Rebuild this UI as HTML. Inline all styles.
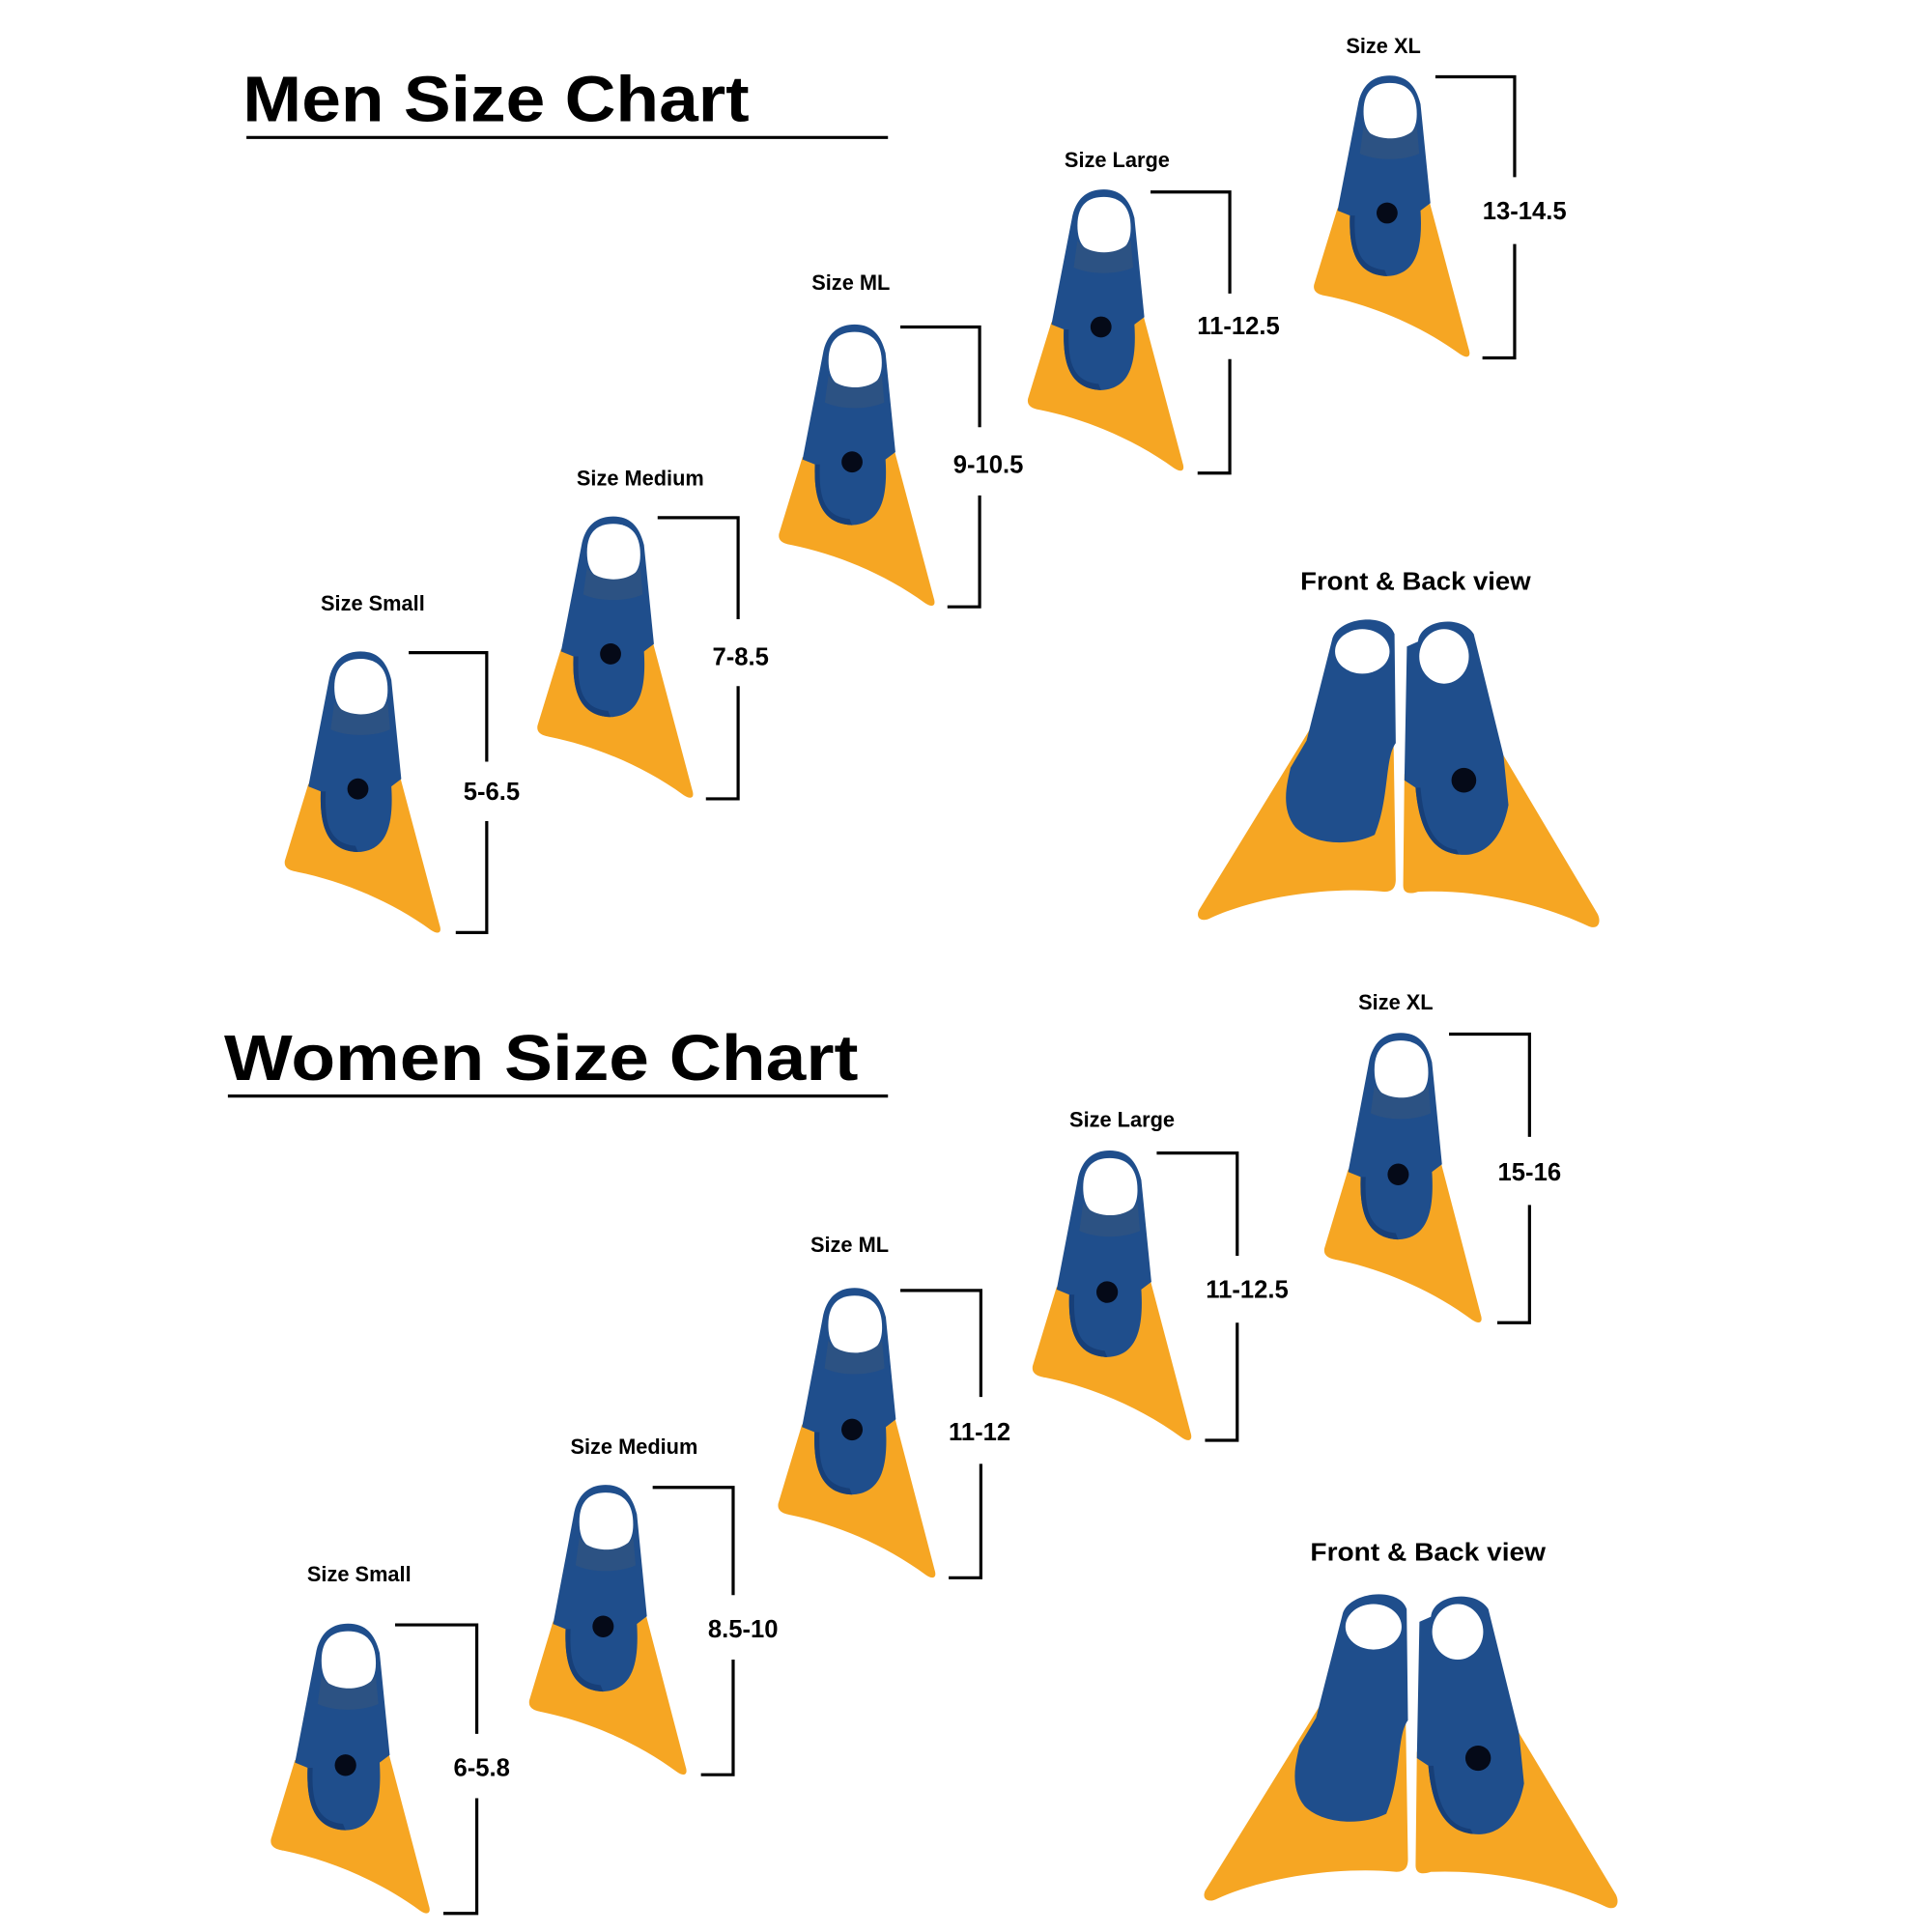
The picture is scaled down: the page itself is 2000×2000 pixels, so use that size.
<!DOCTYPE html>
<html><head><meta charset="utf-8"><style>
html,body{margin:0;padding:0;background:#fff;}
svg{display:block;}
text{font-family:"Liberation Sans",sans-serif;font-weight:bold;fill:#000;}
</style></head><body>
<svg width="2000" height="2000" viewBox="0 0 1560 1560" xmlns="http://www.w3.org/2000/svg">
<defs>
<g id="fin">
  <path d="M-41,106 L-60,168 C-61,174 -56,176 -50,177 C-15,184 25,200 58,224 C64,228 67,226 65,220 L33,100 Z" fill="#f6a623"/>
  <path d="M-24,20 C-20,4 -10,-1 1,-1 C14,-1 22,6 26,22 L34,102 L26,108 C28,140 22,160 -1,161 C-26,160 -32,140 -31,112 L-41,108 Z" fill="#1f4e8c"/>
  <path d="M-31,112 C-32,140 -26,160 -1,161 L-3,156 C-24,154 -28,138 -27,112 Z" fill="#173f78"/>
  <path d="M-20,28 C-20,10 -10,5 1,5 C14,5 23,12 23,30 C23,48 12,51 1,51 C-12,51 -20,45 -20,28 Z" fill="#fff"/>
  <path d="M-20,40 C-14,52 14,54 23,40 L25,62 C12,68 -10,68 -23,62 Z" fill="#2c5283"/>
  <circle cx="-1" cy="110" r="8.5" fill="#050a18"/>
</g>
<g id="pair">
  <path d="M1060,585 L968,735 C965,742 971,745 978,741 C1020,722 1080,716 1118,720 C1125,720 1127,716 1127,710 L1125,585 Z" fill="#f6a623"/>
  <path d="M1076,515 C1082,498 1120,494 1126,512 L1127,600 C1118,612 1122,645 1110,674 C1090,684 1060,682 1046,668 C1033,652 1040,630 1042,620 L1055,598 Z" fill="#1f4e8c"/>
  <ellipse cx="1100" cy="526" rx="22" ry="18" fill="#fff"/>
  <path d="M1134,625 L1133,715 C1133,722 1139,722 1145,720 C1195,718 1245,730 1283,748 C1291,751 1293,744 1290,738 L1214,610 Z" fill="#f6a623"/>
  <path d="M1145,518 C1147,500 1180,496 1190,512 L1214,610 L1218,650 C1212,682 1195,692 1178,690 C1158,688 1146,672 1143,636 L1134,630 L1136,522 Z" fill="#1f4e8c"/>
  <path d="M1143,636 C1146,672 1158,688 1178,690 L1176,686 C1160,684 1150,670 1147,636 Z" fill="#173f78"/>
  <ellipse cx="1166" cy="530" rx="20" ry="22" fill="#fff"/>
  <circle cx="1182" cy="630" r="10" fill="#050a18"/>
</g>
</defs>

<text x="196" y="98" font-size="52" textLength="409" lengthAdjust="spacingAndGlyphs">Men Size Chart</text>
<line x1="199" y1="111" x2="717" y2="111" stroke="#000" stroke-width="2.5"/>
<text x="181" y="872" font-size="52" textLength="512" lengthAdjust="spacingAndGlyphs">Women Size Chart</text>
<line x1="184" y1="885" x2="717" y2="885" stroke="#000" stroke-width="2.5"/>

<g fill="none" stroke="#000" stroke-width="2.5">
<path d="M330,527 H393 V615 M393,663 V753 H368"/>
<path d="M531,418 H596 V500 M596,554 V645 H570"/>
<path d="M727,264 H791 V345 M791,400 V490 H765"/>
<path d="M929,155 H993 V237 M993,290 V382 H967"/>
<path d="M1159,62 H1223 V143 M1223,197 V289 H1197"/>
<path d="M319,1312 H385 V1400 M385,1452 V1545 H358"/>
<path d="M527,1201 H592 V1288 M592,1340 V1433 H566"/>
<path d="M727,1042 H792 V1128 M792,1182 V1274 H766"/>
<path d="M934,931 H999 V1014 M999,1068 V1163 H973"/>
<path d="M1170,835 H1235 V918 M1235,973 V1068 H1209"/>
</g>

<g font-size="20" text-anchor="middle">
<text x="397" y="646">5-6.5</text>
<text x="598" y="537">7-8.5</text>
<text x="798" y="382">9-10.5</text>
<text x="1000" y="270">11-12.5</text>
<text x="1231" y="177">13-14.5</text>
<text x="389" y="1434">6-5.8</text>
<text x="600" y="1322">8.5-10</text>
<text x="791" y="1163">11-12</text>
<text x="1007" y="1048">11-12.5</text>
<text x="1235" y="953">15-16</text>
</g>

<g font-size="17" text-anchor="middle">
<text x="301" y="493">Size Small</text>
<text x="517" y="392">Size Medium</text>
<text x="687" y="234">Size ML</text>
<text x="902" y="135">Size Large</text>
<text x="1117" y="43">Size XL</text>
<text x="290" y="1277">Size Small</text>
<text x="512" y="1174">Size Medium</text>
<text x="686" y="1011">Size ML</text>
<text x="906" y="910">Size Large</text>
<text x="1127" y="815">Size XL</text>
</g>
<g font-size="20">
<text x="1050" y="476" textLength="186" lengthAdjust="spacingAndGlyphs">Front &amp; Back view</text>
<text x="1058" y="1260" textLength="190" lengthAdjust="spacingAndGlyphs">Front &amp; Back view</text>
</g>

<use href="#fin" transform="translate(290,527)"/>
<use href="#fin" transform="translate(494,418)"/>
<use href="#fin" transform="translate(689,263)"/>
<use href="#fin" transform="translate(890,154)"/>
<use href="#fin" transform="translate(1121,62)"/>
<use href="#fin" transform="translate(280,1312) scale(1.02,1.03)"/>
<use href="#fin" transform="translate(488,1200) scale(1.01,1.03)"/>
<use href="#fin" transform="translate(689,1041) scale(1.01,1.03)"/>
<use href="#fin" transform="translate(895,930) scale(1.02,1.03)"/>
<use href="#fin" transform="translate(1130,835) scale(1.01,1.03)"/>

<use href="#pair"/>
<use href="#pair" transform="translate(970,1285) scale(1.03,1.02) translate(-965,-498)"/>
</svg>
</body></html>
